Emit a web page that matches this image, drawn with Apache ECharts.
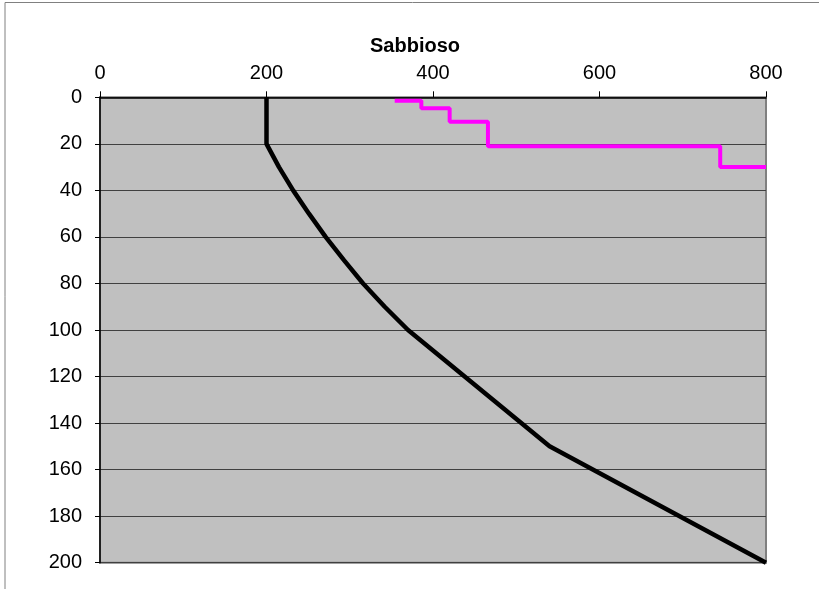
<!DOCTYPE html>
<html><head><meta charset="utf-8">
<script src="https://cdn.jsdelivr.net/npm/echarts@6/dist/echarts.min.js"></script>
<style>html,body{margin:0;padding:0;background:#fff}#c{width:819px;height:589px}</style>
</head><body><div id="c"></div>
<script>
const titleText = 'Sabbioso';
const xTicks = [0, 200, 400, 600, 800];
const yTicks = [0, 20, 40, 60, 80, 100, 120, 140, 160, 180, 200];
// black curve: [value, depth]
const blackX = [200, 200, 215, 232, 251, 271, 293, 316, 342, 370, 540, 800];
const blackY = [0, 20, 30, 40, 50, 60, 70, 80, 90, 100, 150, 200];
// magenta step line
const pinkX = [354, 386, 386, 420, 420, 466, 466, 745, 745, 800];
const pinkY = [1.5, 1.5, 4.7, 4.7, 10.5, 10.5, 21, 21, 30, 30];

const zip = (a, b) => a.map((v, i) => [v, b[i]]);
const font = '"Liberation Sans", Arial, sans-serif';
const chart = echarts.init(document.getElementById('c'), null, {renderer: 'canvas'});
chart.setOption({
  animation: false,
  title: {text: titleText, left: 410, top: 31, textAlign: 'center',
    textStyle: {fontFamily: font, fontSize: 20, fontWeight: 'bold', color: '#000'}},
  graphic: [{type: 'rect', shape: {x: 5, y: 2.5, width: 900, height: 700},
    style: {fill: null, stroke: '#808080', lineWidth: 1}, silent: true}],
  grid: {left: 100, top: 97.3, width: 666, height: 465.4, show: true,
    backgroundColor: '#c0c0c0', borderColor: '#808080', borderWidth: 2},
  xAxis: {type: 'value', position: 'top', min: xTicks[0], max: xTicks[xTicks.length-1], interval: 200,
    axisLine: {show: true, lineStyle: {color: '#000', width: 1.5}},
    axisTick: {show: true, length: 6, lineStyle: {color: '#000'}},
    axisLabel: {fontFamily: font, fontSize: 20, color: '#000', margin: 14},
    splitLine: {show: false}},
  yAxis: {type: 'value', inverse: true, min: yTicks[0], max: yTicks[yTicks.length-1], interval: 20,
    axisLine: {show: true, lineStyle: {color: '#000', width: 1.5}},
    axisTick: {show: true, length: 5, lineStyle: {color: '#000'}},
    axisLabel: {fontFamily: font, fontSize: 20, color: '#000', margin: 18},
    splitLine: {show: true, lineStyle: {color: '#404040', width: 1}}},
  series: [
    {type: 'line', data: zip(blackX, blackY), showSymbol: false, symbol: 'none',
     lineStyle: {color: '#000', width: 4.5}, z: 3},
    {type: 'line', data: zip(pinkX, pinkY), showSymbol: false, symbol: 'none',
     lineStyle: {color: '#ff00ff', width: 4}, z: 4}
  ]
});
</script></body></html>
